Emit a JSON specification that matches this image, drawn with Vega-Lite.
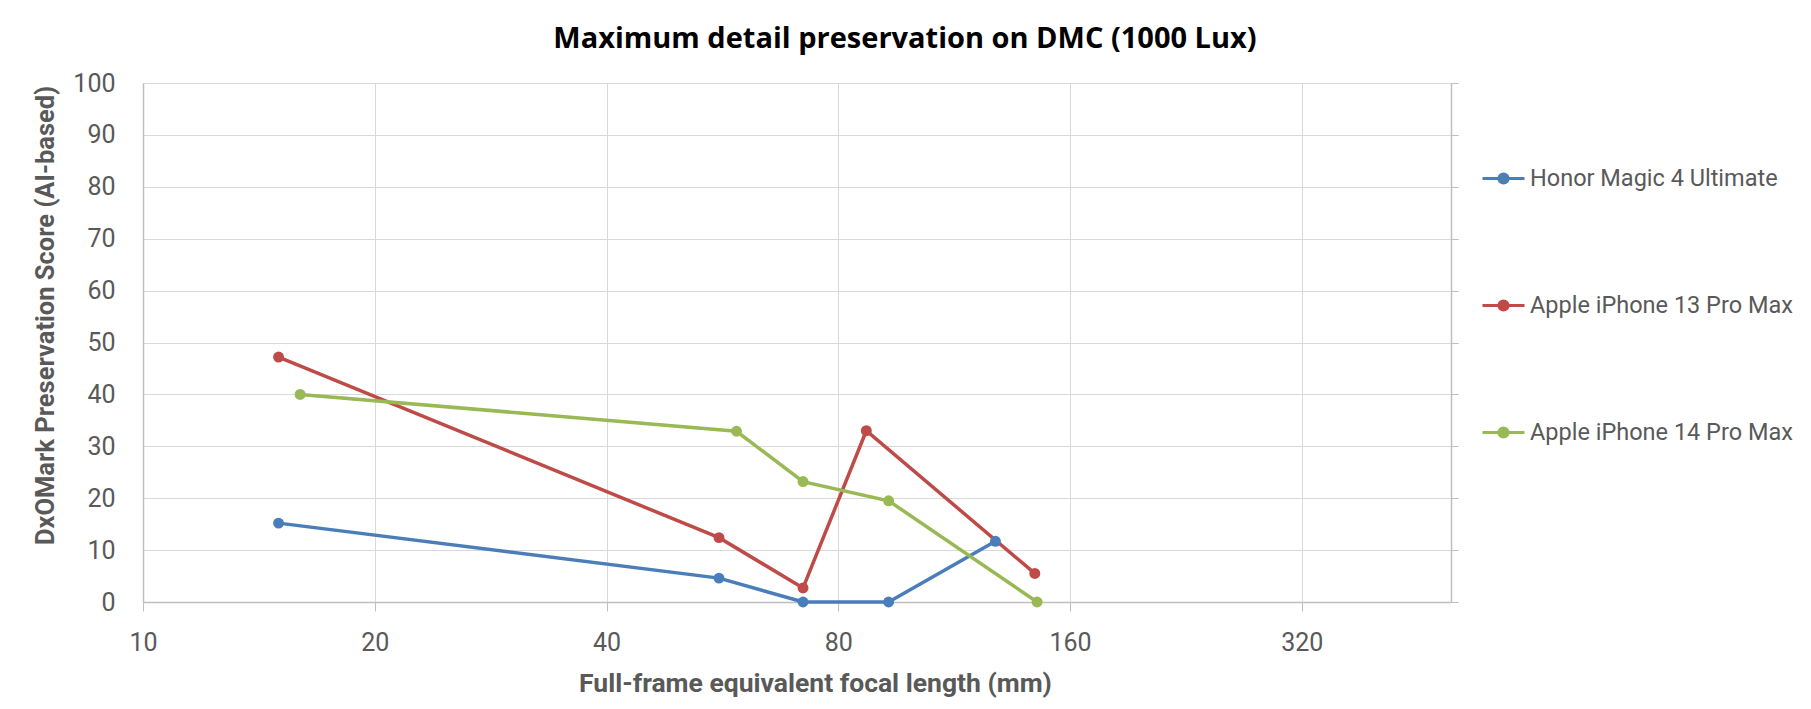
{
  "$schema": "https://vega.github.io/schema/vega-lite/v6.json",
  "width": 1308,
  "height": 519,
  "autosize": {"type": "none"},
  "padding": {"left": 143, "top": 83, "right": 360, "bottom": 107},
  "background": "white",
  "config": {"view": {"stroke": null}},
  "title": {
    "text": "Maximum detail preservation on DMC (1000 Lux)",
    "font": "Open Sans",
    "fontSize": 29,
    "fontWeight": "bold",
    "color": "#000000",
    "anchor": "middle",
    "frame": "group",
    "dx": 108,
    "offset": 17
  },
  "data": {
    "values": [
      {"phone": "Honor Magic 4 Ultimate", "focal": 15, "score": 15.2},
      {"phone": "Honor Magic 4 Ultimate", "focal": 56, "score": 4.6},
      {"phone": "Honor Magic 4 Ultimate", "focal": 72, "score": 0},
      {"phone": "Honor Magic 4 Ultimate", "focal": 93, "score": 0},
      {"phone": "Honor Magic 4 Ultimate", "focal": 128, "score": 11.7},
      {"phone": "Apple iPhone 13 Pro Max", "focal": 15, "score": 47.2},
      {"phone": "Apple iPhone 13 Pro Max", "focal": 56, "score": 12.4},
      {"phone": "Apple iPhone 13 Pro Max", "focal": 72, "score": 2.7},
      {"phone": "Apple iPhone 13 Pro Max", "focal": 87, "score": 33.0},
      {"phone": "Apple iPhone 13 Pro Max", "focal": 144, "score": 5.5},
      {"phone": "Apple iPhone 14 Pro Max", "focal": 16, "score": 40.0},
      {"phone": "Apple iPhone 14 Pro Max", "focal": 59, "score": 32.9},
      {"phone": "Apple iPhone 14 Pro Max", "focal": 72, "score": 23.2},
      {"phone": "Apple iPhone 14 Pro Max", "focal": 93, "score": 19.5},
      {"phone": "Apple iPhone 14 Pro Max", "focal": 145, "score": 0}
    ]
  },
  "encoding": {
    "x": {
      "field": "focal",
      "type": "quantitative",
      "scale": {"type": "log", "base": 2, "domain": [10, 500], "nice": false},
      "axis": {
        "values": [10, 20, 40, 80, 160, 320],
        "format": "d",
        "title": "Full-frame equivalent focal length (mm)",
        "grid": true,
        "gridColor": "#d9d9d9",
        "gridWidth": 1,
        "domainColor": "#bfbfbf",
        "domainWidth": 1.5,
        "ticks": true,
        "tickColor": "#bfbfbf",
        "tickSize": 9,
        "labelFlush": false,
        "labelPadding": 19,
        "labelFont": "Roboto",
        "labelFontSize": 25,
        "labelColor": "#595959",
        "titleFont": "Roboto",
        "titleFontSize": 26.5,
        "titleFontWeight": "bold",
        "titleColor": "#595959",
        "titlePadding": 15,
        "titleX": 672
      }
    },
    "color": {
      "field": "phone",
      "type": "nominal",
      "scale": {
        "domain": ["Honor Magic 4 Ultimate", "Apple iPhone 13 Pro Max", "Apple iPhone 14 Pro Max"],
        "range": ["#4a7ebb", "#be4b48", "#98b954"]
      },
      "legend": {
        "orient": "none",
        "legendX": 1338,
        "legendY": 73,
        "padding": 0,
        "title": null,
        "symbolType": "M-1,0L1,0M-0.22,0A0.22,0.22 0 1,0 0.22,0A0.22,0.22 0 1,0 -0.22,0Z",
        "symbolSize": 1764,
        "symbolStrokeWidth": 3,
        "labelFont": "Roboto",
        "labelFontSize": 23.5,
        "labelColor": "#595959",
        "labelOffset": 4,
        "labelLimit": 400,
        "rowPadding": 93,
        "encode": {
          "symbols": {
            "update": {
              "fill": {"scale": "color", "field": "value"},
              "stroke": {"scale": "color", "field": "value"},
              "opacity": {"value": 1}
            }
          }
        }
      }
    }
  },
  "layer": [
    {
      "mark": {"type": "line", "strokeWidth": 3.5},
      "encoding": {
        "y": {
          "field": "score",
          "type": "quantitative",
          "scale": {"domain": [0, 100], "nice": false},
          "axis": {
            "values": [0, 10, 20, 30, 40, 50, 60, 70, 80, 90, 100],
            "title": "DxOMark Preservation Score (AI-based)",
            "grid": true,
            "gridColor": "#d9d9d9",
            "gridWidth": 1,
            "domainColor": "#bfbfbf",
            "domainWidth": 1.5,
            "ticks": false,
            "labelPadding": 28,
            "labelFont": "Roboto",
            "labelFontSize": 25,
            "labelColor": "#595959",
            "titleFont": "Roboto",
            "titleFontSize": 25.5,
            "titleFontWeight": "bold",
            "titleColor": "#595959",
            "titlePadding": 14,
            "titleY": 232
          }
        }
      }
    },
    {
      "mark": {"type": "point", "filled": true, "size": 120, "opacity": 1},
      "encoding": {
        "y": {
          "field": "score",
          "type": "quantitative",
          "axis": {
            "orient": "right",
            "values": [0, 10, 20, 30, 40, 50, 60, 70, 80, 90, 100],
            "labels": false,
            "title": null,
            "grid": false,
            "domainColor": "#bfbfbf",
            "domainWidth": 1.5,
            "ticks": true,
            "tickColor": "#bfbfbf",
            "tickSize": 7
          }
        }
      }
    }
  ],
  "resolve": {"axis": {"y": "independent"}}
}
